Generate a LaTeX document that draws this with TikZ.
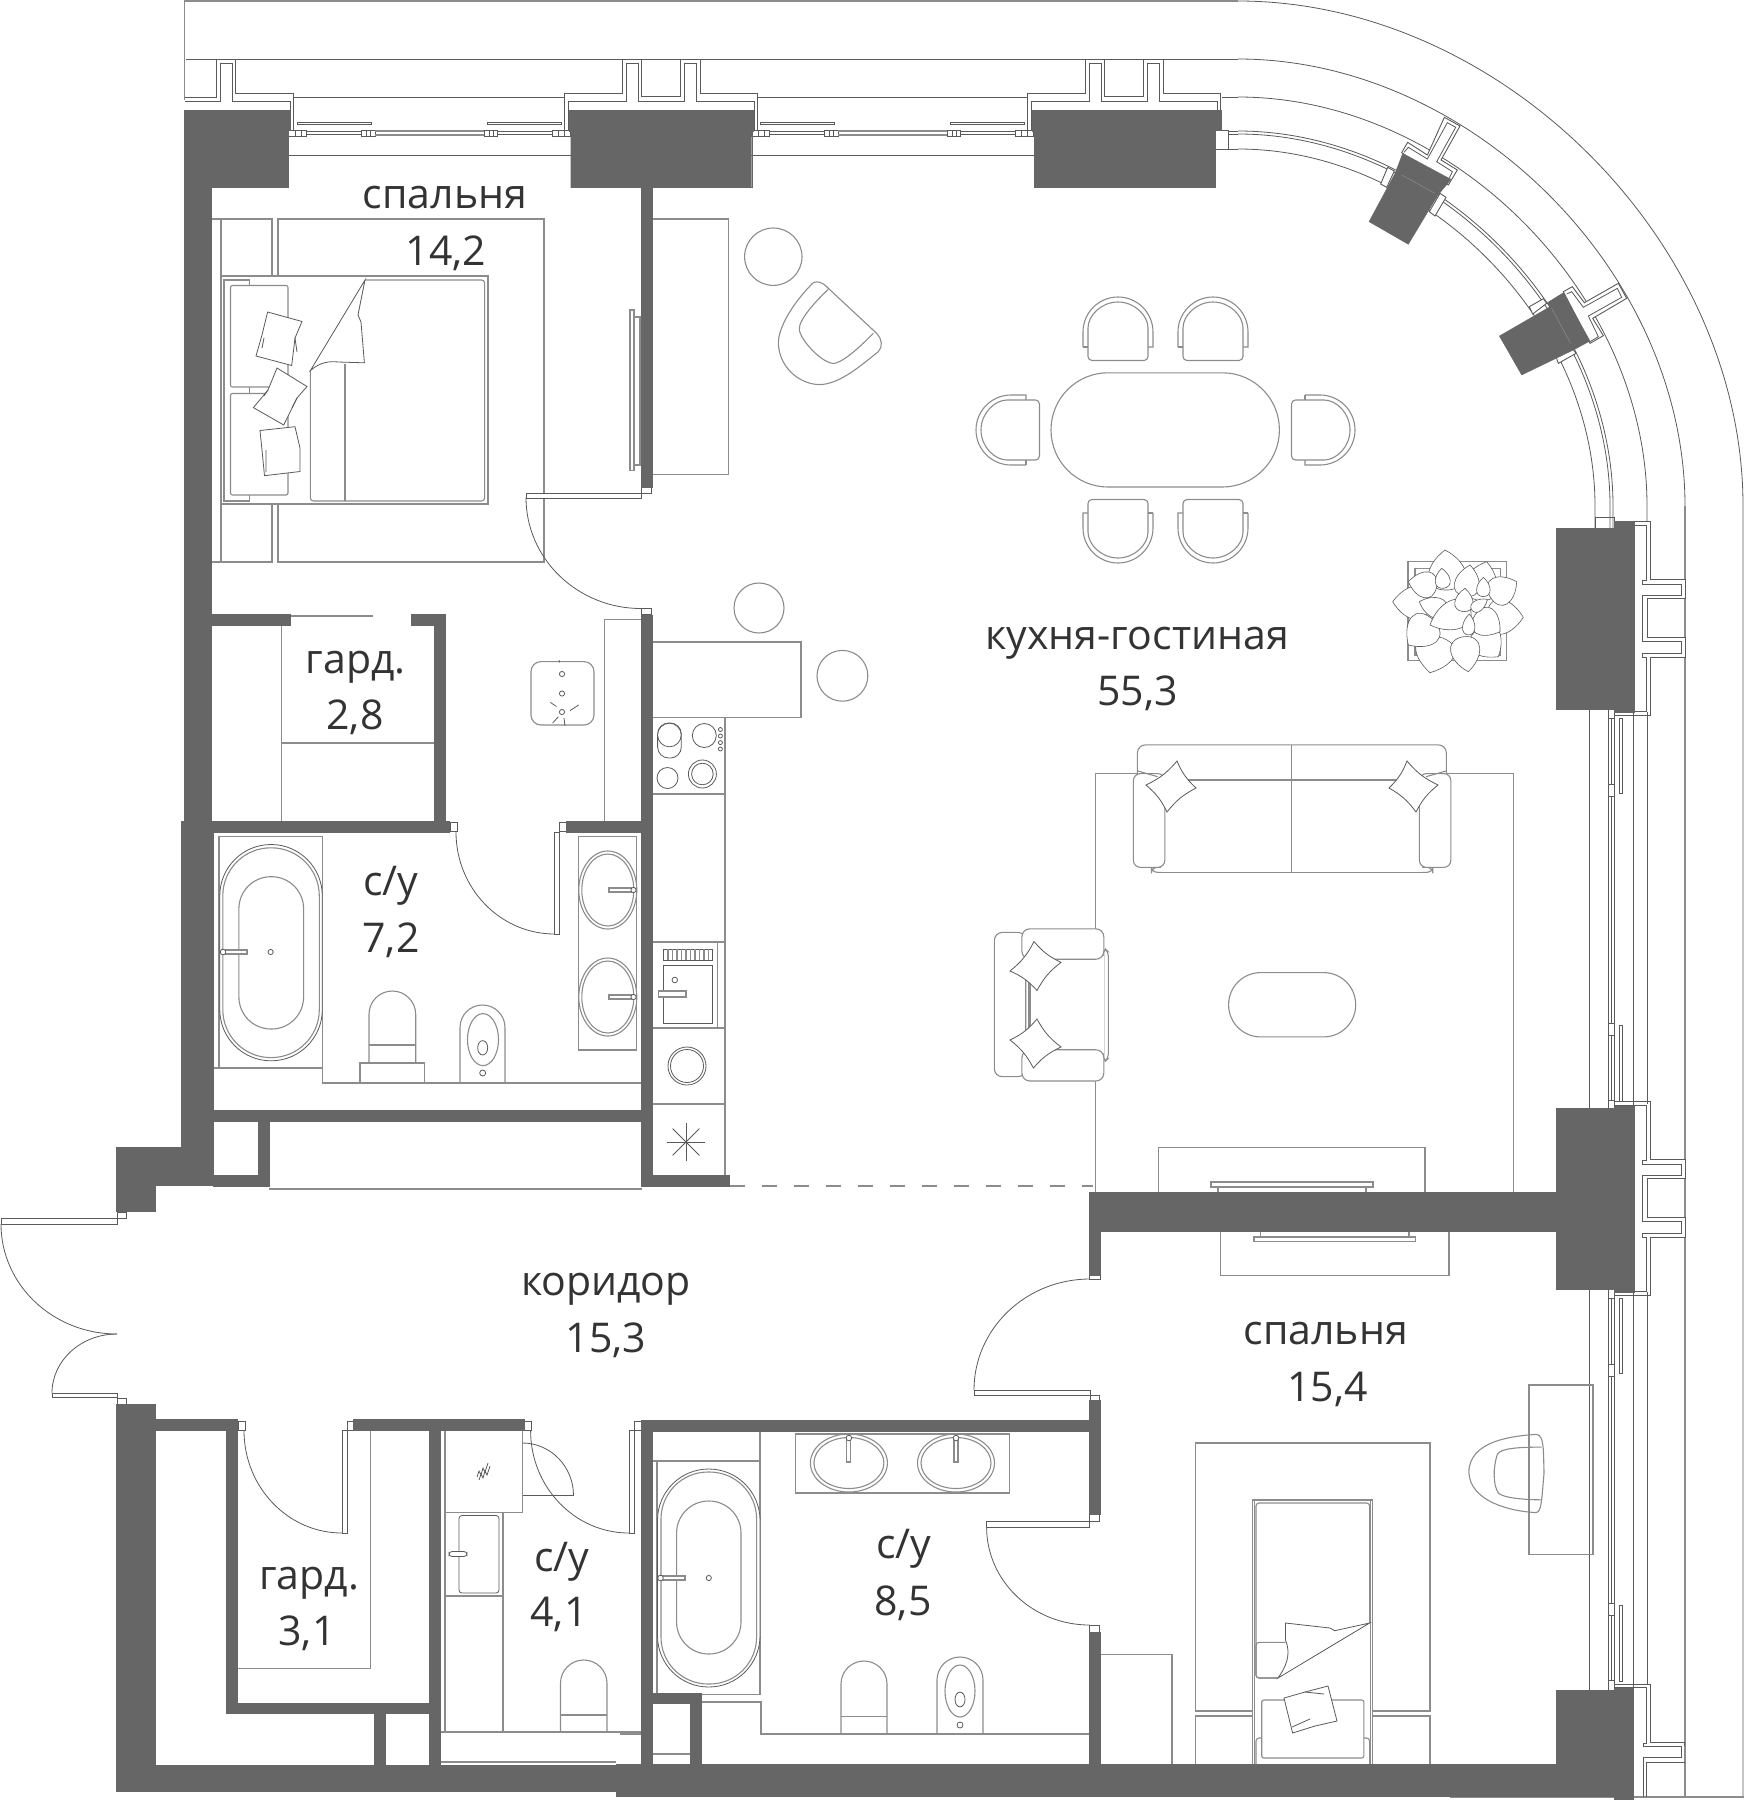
\documentclass[tikz,border=0pt]{standalone}
\usepackage{fontspec}
\setmainfont{Open Sans}
\usetikzlibrary{calc}
\definecolor{wallc}{HTML}{666666}
\definecolor{furnc}{HTML}{8C8C8C}
\definecolor{linec}{HTML}{5A5A5A}
\definecolor{labc}{HTML}{333333}
\tikzset{
  wall/.style={fill=wallc,draw=wallc,line width=.15pt},
  furn/.style={draw=furnc,line width=.55pt},
  thn/.style={draw=linec,line width=.4pt},
  frame/.style={draw=linec,line width=.45pt,fill=white},
  outerg/.style={draw=furnc,line width=.9pt},
  leafl/.style={draw=linec,line width=.3pt,fill=white},
  lbl/.style={anchor=base,inner sep=0pt,text=labc,font=\fontsize{20.5}{24}\selectfont},
  zone/.style={shift={(170,0)},x=.19135pt,y=-.19135pt},
  zfive/.style={x=.2245pt,y=-.19135pt},
  zeight/.style={shift={(1180,1280)},x=.17986pt,y=-.16779pt},
  zfour/.style={shift={(640,620)},x=.19135pt,y=-.1977pt},
  zthree/.style={x=.16667pt,y=-.16667pt},
  dinechair/.pic={
    \draw[furn] (-35,15) -- (-35,0) arc[start angle=180,end angle=360,radius=35] -- (35,15) -- (30,15);
    \draw[furn] (-35,15) -- (-30,15);
    \draw[furn,rounded corners=2pt] (-30,0) arc[start angle=180,end angle=360,radius=30] -- (30,28.5) -- (-30,28.5) -- cycle;
  }
}
\newcommand{\qarc}[1]{(1238,506-#1) .. controls (1238+0.522*#1,506-#1) and (1238+#1,506-0.522*#1) .. (1238+#1,506)}
\newcommand{\hwin}{%
  \draw[thn,fill=white] (288.6,130) rectangle (306,136);
  \draw[thn,fill=white] (361,130) rectangle (375,136);
  \draw[thn,fill=white] (484,130) rectangle (497,136);
  \draw[thn,fill=white] (552,130) rectangle (570,136);
  \foreach \xx in {295,301,366,370,489,493,558,564} {\draw[thn] (\xx,130) -- (\xx,136);}
  \draw[thn] (306,131.2) -- (361,131.2) (306,134.6) -- (361,134.6) (497,131.2) -- (552,131.2) (497,134.6) -- (552,134.6);
  \draw[furn] (375,131) -- (484,131) (375,135) -- (484,135);
  \draw[thn] (297.4,122) rectangle (371.7,124.8) (487,122) rectangle (561.5,124.8);
  \draw[thn] (288,155) -- (570.7,155);
}
\newcommand{\topfin}{%
  \begin{scope}[zone]
  \draw[frame] (1032,340) -- (1032,243) -- (1183,243) -- (1183,155) -- (1233,155) -- (1233,253) -- (1335,253) -- (1335,155) -- (1385,155) -- (1385,243) -- (1536,243) -- (1536,340);
  \draw[thn] (1042,340) -- (1042,265) -- (1193,265) -- (1193,165) -- (1223,165) -- (1223,265) -- (1345,265) -- (1345,165) -- (1375,165) -- (1375,265) -- (1526,265) -- (1526,340);
  \end{scope}
}
\newcommand{\rightfin}{%
  \draw[frame] (1280,997) -- (1359,997) -- (1359,1148) -- (1437,1148) -- (1437,1198) -- (1352,1198) -- (1352,1300) -- (1437,1300) -- (1437,1352) -- (1359,1352) -- (1359,1503) -- (1280,1503);
  \draw[thn] (1280,1007) -- (1350,1007) -- (1350,1150) -- (1342,1150) -- (1342,1160) -- (1428,1160) -- (1428,1190) -- (1342,1190) -- (1342,1310) -- (1428,1310) -- (1428,1342) -- (1342,1342) -- (1342,1352) -- (1350,1352) -- (1350,1493) -- (1280,1493);
}
\newcommand{\vwin}{%
  \draw[thn] (1608,1292) -- (1608,1688) (1611,1292) -- (1611,1688) (1614,1292) -- (1614,1688);
  \draw[thn,fill=white] (1608,1289) rectangle (1614,1298);
  \draw[thn,fill=white] (1608,1364) rectangle (1614,1376);
  \draw[thn,fill=white] (1608,1603) rectangle (1614,1615.6);
  \draw[thn,fill=white] (1608,1680) rectangle (1614,1690);
  \draw[thn] (1619,1298.5) rectangle (1622,1373) (1619,1605.5) rectangle (1622,1681);
  \draw[thn] (1589,1289) -- (1589,1690);
  \draw[thn] (1633,1292) -- (1633,1690);
  \draw[thn] (1647,1292) -- (1647,1684);
}
\newcommand{\leaf}[5]{\draw[leafl] (#1,#2) .. controls ($(#1,#2)!.02!(#3,#4)!#5*1.3pt!90:(#3,#4)$) and ($(#1,#2)!.62!(#3,#4)!#5*1.2pt!90:(#3,#4)$) .. (#3,#4) .. controls ($(#1,#2)!.62!(#3,#4)!#5*1.2pt!-90:(#3,#4)$) and ($(#1,#2)!.02!(#3,#4)!#5*1.3pt!-90:(#3,#4)$) .. cycle;}
\newcommand{\caps}[5]{\draw[furn,rounded corners=#5pt] (#1,#2) rectangle (#3,#4);}
\newcommand{\wc}[6]{% x1 x2 top r bottom line
  \draw[furn] (#1,#5) -- (#1,#3+#4) arc[start angle=180,end angle=360,radius=#4] -- (#2,#5);
  \draw[furn] (#1,#6) -- (#2,#6);}
\begin{document}
\begin{tikzpicture}[x=.5pt,y=-.5pt]
\useasboundingbox (0,0) rectangle (1744,1800);
% outer lines
\draw[outerg] (184.5,100) -- (184.5,1) -- (1238,1);
\draw[thn] \qarc{505} -- (1743,1798);
\draw[thn] (186,59) -- (1238,59);
\draw[thn] \qarc{447};
\draw[outerg] (1685,506) -- (1685,1797);
\draw[outerg] (1450,1797) -- (1744,1797);
\draw[thn] (184.5,97) -- (216.7,97) (294,97) -- (565,97) (757,97) -- (1028,97) (1222,97) -- (1238,97);
\draw[thn] \qarc{409} -- (1647,521);
\draw[thn] (1647,715) -- (1647,1101);
% curved window
\draw[thn] (1215,149) -- (1238,149);
\draw[thn] \qarc{357} -- (1595,528);
\draw[thn] (1228,131) -- (1238,131);
\draw[thn] \qarc{375} -- (1613,528);
\draw[thn] (1228,134) -- (1238,134);
\draw[thn] \qarc{372} -- (1610,528);
\draw[frame] (1215,130) rectangle (1228,149);
\draw[thn] (1595,517) rectangle (1614,528);
% left fin
\begin{scope}[zone]
\draw[thn] (38,255) -- (122,255) -- (122,155) -- (172,155) -- (172,243) -- (323,243) -- (323,340);
\draw[thn] (38,265) -- (132,265) -- (132,165) -- (162,165) -- (162,265) -- (314,265) -- (314,340);
\end{scope}
\topfin
\begin{scope}[shift={(463,0)}]\topfin\end{scope}
\hwin
\begin{scope}[shift={(463,0)}]\hwin\end{scope}
% angled fins
\begin{scope}[shift={(1340,110)},zthree]
\draw[frame] (185,128) -- (203,97) -- (262,135) -- (313,22) -- (360,48) -- (303,150) -- (352,180) -- (325,225) -- cycle;
\draw[thn] (192,127) -- (205,112) -- (262,147) -- (322,38) -- (347,52) -- (290,155) -- (337,185) -- (318,225);
\draw[frame] (143,172) -- (122,222) -- (140,232) -- (163,183) -- cycle;
\draw[frame] (300,250) -- (268,305) -- (285,318) -- (318,262) -- cycle;
\draw[frame] (670,545) -- (697,530) -- (733,578) -- (835,520) -- (860,565) -- (758,625) -- (790,677) -- (750,700) -- cycle;
\draw[thn] (680,552) -- (695,545) -- (730,592) -- (832,535) -- (845,562) -- (745,618) -- (775,680) -- (750,695);
\draw[frame] (568,590) -- (610,566) -- (620,580) -- (578,612) -- cycle;
\draw[frame] (648,740) -- (695,712) -- (708,730) -- (655,760) -- cycle;
\fill[wall] (188,130) -- (333,208) -- (292,258) -- (205,403) -- (87,335) -- (165,190) -- cycle;
\fill[wall] (670,548) -- (750,693) -- (700,720) -- (545,795) -- (478,678) -- (630,590) -- (622,578) -- cycle;
\draw[furnc,line width=.25pt] (185,195) -- (285,250) (635,595) -- (692,700);
\end{scope}
% right facade
\begin{scope}[shift={(1040,140)},zfive]\rightfin\end{scope}
\begin{scope}[shift={(1040,720)},zfive]\rightfin\end{scope}
\vwin
\begin{scope}[shift={(0,-580)}]\vwin\end{scope}
\begin{scope}[zeight]
\draw[thn] (1207,1205) -- (1307,1205) -- (1307,1377) -- (1403,1377) -- (1403,1390);
\draw[thn] (1207,1215) -- (1297,1215) -- (1297,1380) -- (1287,1380) -- (1287,1390) -- (1393,1390) -- (1393,1424) -- (1287,1424) -- (1287,1540);
\draw[thn] (1403,1437) -- (1297,1437) -- (1297,1540);
\end{scope}
% bedroom 1
\draw[furn] (211,219) -- (272,219) -- (272,562) -- (211,562);
\draw[furn] (221,219) -- (221,562);
\draw[furn] (278,219) rectangle (544,562);
\draw[furn,fill=white] (221,276) rectangle (488,504);
\draw[furn] (249.6,285.5) -- (249.6,280) -- (224,280) -- (224,501) -- (249.6,501) -- (249.6,495);
\draw[furn] (249.6,387) -- (249.6,393.5);
\draw[furn,rounded corners=1pt] (230.5,285.5) rectangle (288,387);
\draw[furn,rounded corners=1pt] (230.5,393.5) rectangle (288,495);
\draw[furn,rounded corners=1.5pt] (365,280) -- (484.6,280) -- (484.6,501) -- (310.4,501) -- (310.4,370);
\draw[furn] (345,363.6) -- (345,501);
\draw[thn,fill=white] (365,280) -- (310.4,370.5) .. controls (320,362) and (330,361) .. (338,362) -- (364.4,362.8) -- (361,322) -- (358,315) -- cycle;
\draw[thn,fill=white] (267.6,312) -- (302,321.5) -- (295,338) -- (291.7,365.5) -- (256,356) -- (262,335) -- cycle;
\draw[thn,fill=white] (277,368) -- (307,386.5) -- (297,398) -- (283.7,425) -- (253.4,407.6) -- (268,390) -- cycle;
\draw[thn,fill=white] (260,430.5) -- (295,426.7) -- (300,448) -- (300,471.5) -- (264.5,475.7) -- (262,450) -- cycle;
\draw[thn] (264,338) -- (262,348) (268,390) -- (264,396) (266,450) -- (266,472) (295,338) -- (297,352) (297,398) -- (292,408);
\draw[furn] (653,219) -- (728.7,219) -- (728.7,474.5) -- (653,474.5);
\draw[furn] (630,310) rectangle (634,470.7) (634,317) rectangle (640,465);
% lounge chair
\draw[furn] (773.3,256.7) circle[radius=28.7];
\begin{scope}[shift={(730,210)},zthree]
\draw[furn] (440,370) -- (295,235) .. controls (280,218) and (255,205) .. (240,228) .. controls (190,280) and (145,350) .. (145,400) .. controls (148,480) and (220,530) .. (280,523) .. controls (340,515) and (400,460) .. (445,425) .. controls (460,410) and (455,385) .. (440,370);
\draw[furn] (295,238) .. controls (260,270) and (205,330) .. (208,358) .. controls (210,390) and (280,465) .. (315,460) .. controls (350,450) and (400,400) .. (430,370);
\end{scope}
% bar
\draw[furn] (652.6,642) -- (801,642) -- (801,717.7) -- (652.6,717.7);
\draw[furn] (842.4,675.8) circle[radius=25.4];
\draw[furn] (759,608) circle[radius=25];
% island
\draw[furn] (641,619.6) -- (604.4,619.6) -- (604.4,821);
\draw[furn,rounded corners=5pt] (531,661.6) rectangle (594,725);
\foreach \yy in {674,693.5,712} {\draw[thn] (562,\yy) circle[radius=2.6];}
\draw[thn] (550.4,702.4) -- (556.5,706.5) (578.7,705) -- (570,710.6) (564,718) -- (565,726) (552.7,723) -- (558.4,716.7) (559,660) -- (559.6,662.4);
% kitchen
\draw[furn] (725,717.7) -- (725,1175);
\draw[furn] (652.6,717.7) -- (725,717.7) (652.6,794) -- (725,794) (652.6,942) -- (725,942) (652.6,1028) -- (725,1028) (652.6,1104) -- (725,1104);
\draw[furn] (717.7,942) -- (717.7,1028);
\draw[thn] (663.3,965.6) rectangle (712.7,1023);
\draw[thn] (663.3,949) rectangle (712.7,960);
\foreach \xx in {668,672.5,677,681.5,686,690.5,695,699.5,704,708.5} {\draw[furn] (\xx,949) -- (\xx,960);}
\draw[thn] (674.8,980) circle[radius=2.8];
\draw[furn,fill=white] (658.4,991) rectangle (686,997);
\draw[thn] (687,1066) circle[radius=19] (687,1066) circle[radius=16.5];
\foreach \aa in {0,45,...,315} {\draw[thn] (686,1142) -- ++(\aa:19);}
\draw[thn,rounded corners=5.5pt] (657.6,723) rectangle (681.3,758);
\draw[thn,fill=white] (669.4,735) circle[radius=11.8];
\draw[thn] (704.3,735.5) circle[radius=12] (667.5,778) circle[radius=10.5] (702.4,774) circle[radius=14] (702.4,774) circle[radius=10.8];
\foreach \yy in {729.5,736,742.6,749} {\draw[thn] (720.4,\yy) circle[radius=2];}
\draw[furnc,line width=.75pt,dash pattern=on 7.5pt off 8.5pt] (730,1186) -- (1093,1186);
% bathroom 7.2
\draw[furn] (219,1068) -- (219,836.3) -- (322.7,836.3) -- (322.7,1083) -- (641.5,1083);
\draw[furn] (213,1068) -- (322.7,1068);
\draw[thn,fill=white,rounded corners=25.6pt] (219.8,844.5) rectangle (322.3,1060.8);
\caps{222.8}{847.8}{319.3}{1057.6}{24}
\caps{238.9}{876.7}{303.6}{1029}{16}
\draw[furn,fill=white] (222,950) rectangle (247,954);
\draw[thn,fill=white] (223,952) circle[radius=2.8];
\draw[thn] (270.6,952) circle[radius=2.6];
\wc{369}{415.7}{991}{23.35}{1063}{1045}
\draw[furn] (360,1083) -- (360,1063) -- (424.5,1063) -- (424.5,1083);
\draw[furn] (460,1083) -- (460,1027.5) arc[start angle=180,end angle=360,radius=22.5] -- (505,1083);
\draw[furn] (483,1039.6) ellipse[x radius=15.5,y radius=26];
\draw[thn] (482.7,1047.8) ellipse[x radius=5,y radius=7.2];
\draw[thn] (482.7,1073) circle[radius=3];
\draw[furn] (578.3,836.3) rectangle (636.5,1050);
\foreach \yy in {890,997} {
  \draw[furn] (607.8,\yy) ellipse[x radius=29,y radius=39];
  \draw[furn] (607.8,\yy) ellipse[x radius=26,y radius=36];
  \draw[furn,fill=white] (609,\yy-2) rectangle (634,\yy+2);
  \draw[thn,fill=white] (633.5,\yy) circle[radius=2.6];
}
% closet 2.8
\draw[furn] (281.7,625) -- (281.7,821) (281.7,743) -- (434.5,743);
\draw[furn] (290,616) -- (373,616);
% corridor doors etc
\draw[thn,fill=white] (526,493) rectangle (641.5,498);
\draw[linec,line width=.4pt] (526,497.5) arc[start angle=180,end angle=90,x radius=115,y radius=111];
\draw[thn,fill=white] (641.5,487) rectangle (651,493);
\draw[thn,fill=white] (641.5,608.6) rectangle (651,614.7);
\draw[thn,fill=white] (554.6,832) rectangle (559,934);
\draw[linec,line width=.4pt] (456,832) arc[start angle=180,end angle=90,x radius=98.6,y radius=102];
\draw[thn,fill=white] (450.5,822) rectangle (457,831);
\draw[thn,fill=white] (559.6,822) rectangle (566,831);
% entry
\draw[thn,fill=white] (1,1218) rectangle (117,1224);
\draw[linec,line width=.4pt] (1,1224) arc[start angle=180,end angle=90,x radius=116,y radius=110];
\draw[thn,fill=white] (52,1393) rectangle (117,1397.5);
\draw[linec,line width=.4pt] (52,1393) arc[start angle=180,end angle=270,x radius=65,y radius=59];
\draw[thn,fill=white] (117,1212) rectangle (126.5,1218);
\draw[thn,fill=white] (117,1398) rectangle (126.5,1404);
% closet bottom line
\draw[furn] (268.7,1189) -- (642,1189);
% gard 3.1
\draw[furn] (370.6,1430.5) -- (370.6,1668.6) -- (237,1668.6);
\draw[thn,fill=white] (342,1430.5) rectangle (347.5,1533);
\draw[linec,line width=.4pt] (244,1430.5) arc[start angle=180,end angle=90,x radius=98,y radius=102.5];
\draw[thn,fill=white] (238,1421) rectangle (245,1430.5);
\draw[thn,fill=white] (347,1421) rectangle (353.5,1430.5);
% bath 4.1
\draw[furn] (445,1430.5) -- (445,1732);
\draw[furn] (440,1732) -- (641,1732);
\draw[furn] (440,1762) -- (616,1762);
\draw[furn] (522.5,1430.5) -- (522.5,1512.5) -- (445,1512.5);
\draw[furn] (503,1512.5) -- (503,1732) (445,1596) -- (503,1596);
\draw[thn] (522.5,1495.5) -- (573.5,1495.5);
\draw[linec,line width=.4pt] (573.5,1495.5) arc[start angle=0,end angle=-90,x radius=51,y radius=52.5];
\draw[thn,rounded corners=1.5pt] (459,1515.5) rectangle (499,1593);
\draw[thn,fill=white,rounded corners=1.5pt] (449,1551.5) rectangle (467,1556.5);
\draw[thn] (477,1477) -- (479,1471) -- (481,1475) -- (483,1468) -- (485,1472) -- (488,1463) (479,1480) -- (481,1474) -- (483,1478) -- (485,1471) -- (487,1475) -- (490,1466);
\wc{560.5}{607}{1660}{23.25}{1732}{1715}
\draw[thn,fill=white] (629,1430.5) rectangle (634,1533);
\draw[linec,line width=.4pt] (530.6,1430.5) arc[start angle=180,end angle=90,x radius=98.4,y radius=102.5];
\draw[thn,fill=white] (524.5,1421) rectangle (531.5,1430.5);
\draw[thn,fill=white] (634,1421) rectangle (641,1430.5);
% bath 8.5
\draw[furn] (652.5,1461) -- (760,1461) -- (760,1431);
\draw[furn] (657,1461) -- (657,1694.5) -- (760,1694.5) -- (760,1461);
\draw[thn,fill=white,rounded corners=25.6pt] (657.5,1469) rectangle (760,1687);
\caps{661}{1472}{756.6}{1684}{23.5}
\caps{676.6}{1501}{741}{1654}{16}
\draw[furn,fill=white] (660,1576) rectangle (685,1580);
\draw[thn,fill=white] (660.5,1578) circle[radius=2.8];
\draw[thn] (708.8,1578) circle[radius=2.6];
\draw[furn] (795.3,1434) rectangle (1009.6,1493);
\foreach \xx in {848.9,956} {
  \draw[furn] (\xx,1463) ellipse[x radius=38.5,y radius=29];
  \draw[furn] (\xx,1463) ellipse[x radius=35,y radius=25.5];
  \draw[furn,fill=white] (\xx-2,1438) rectangle (\xx+2,1462);
  \draw[thn,fill=white] (\xx,1438) circle[radius=2.8];
}
\draw[furn] (701,1702) -- (761,1702) -- (761,1734) -- (1089.6,1734);
\draw[furn] (620,1734) -- (641,1734);
\wc{841}{887}{1661}{23}{1734}{1716.6}
\draw[furn] (937,1734) -- (937,1680) arc[start angle=180,end angle=360,radius=23] -- (983,1734);
\draw[furn] (960,1691) ellipse[x radius=15,y radius=26];
\draw[thn] (960,1699.5) ellipse[x radius=5,y radius=7.4];
\draw[thn] (960,1725) circle[radius=3];
\draw[furn] (652.5,1754) -- (690,1754);
\draw[furn] (1100,1654.5) -- (1172,1654.5) -- (1172,1764);
\draw[thn,fill=white] (974,1390) rectangle (1090,1395);
\draw[linec,line width=.4pt] (974,1390) arc[start angle=180,end angle=270,x radius=116,y radius=111];
\draw[thn,fill=white] (1089,1275) rectangle (1100,1279);
\draw[thn,fill=white] (1090,1395) rectangle (1099,1400);
\draw[thn,fill=white] (986.6,1521) rectangle (1089.6,1527);
\draw[linec,line width=.4pt] (986.6,1527) arc[start angle=180,end angle=90,x radius=103,y radius=98];
\draw[thn,fill=white] (1089.6,1514) rectangle (1099,1521);
\draw[thn,fill=white] (1089.6,1625) rectangle (1099,1632);
% plant
\draw[furn] (1408,561.6) rectangle (1506.6,660.7);
\draw[furn] (1415,568.7) rectangle (1500.5,655);
\begin{scope}[shift={(1380,540)},zthree]
\leaf{205}{150}{195}{30}{10}
\leaf{290}{180}{320}{65}{9}
\leaf{320}{230}{430}{232}{9.3}
\leaf{330}{170}{410}{125}{7.8}
\leaf{290}{270}{355}{350}{9}
\leaf{175}{290}{150}{398}{10.6}
\leaf{150}{190}{38}{185}{9}
\leaf{170}{140}{85}{125}{7}
\leaf{160}{240}{85}{315}{9.3}
\leaf{250}{290}{265}{395}{7.8}
\leaf{200}{215}{118}{185}{5.5}
\leaf{255}{170}{270}{75}{6.7}
\leaf{190}{145}{185}{85}{4}
\leaf{310}{170}{310}{112}{3.6}
\leaf{270}{205}{150}{255}{7.8}
\leaf{285}{225}{360}{275}{7.8}
\leaf{250}{215}{255}{145}{4.9}
\leaf{275}{210}{322}{178}{3}
\leaf{265}{285}{268}{222}{3.3}
\end{scope}
% dining
\draw[furn,rounded corners=28.5pt] (1051,372.8) rectangle (1279.4,487);
\pic at (1118,332) {dinechair};
\pic at (1213,332) {dinechair};
\pic[rotate=180] at (1118,528) {dinechair};
\pic[rotate=180] at (1213,528) {dinechair};
\pic[rotate=-90] at (1320,430) {dinechair};
\pic[rotate=90] at (1011,430) {dinechair};
% rug and sofa
\draw[furn] (1095.4,1192) -- (1095.4,773.6) -- (1513.7,773.6) -- (1513.7,1192);
\begin{scope}[shift={(1040,720)},zfive]
\draw[furn,fill=white,rounded corners=3pt] (248,385) -- (248,398) -- (875,398) -- (875,385) -- cycle;
\draw[furn,fill=white,rounded corners=4pt] (217,160) -- (217,65) -- (905,65) -- (905,160) -- cycle;
\draw[furn] (278,155) -- (845,155) (278,158) -- (845,158);
\draw[draw=none,fill=white] (270,159) rectangle (850,397);
\draw[furn] (561,65) -- (561,398);
\draw[furn,fill=white,rounded corners=3.5pt] (208,140) rectangle (278,385);
\draw[furn,fill=white,rounded corners=3.5pt] (845,140) rectangle (915,385);
\draw[furn] (217,133) -- (262,148) (905,133) -- (860,148);
\end{scope}
\draw[thn,fill=white] (1177,761) to[bend right=12] (1196,788) to[bend right=12] (1167,812) to[bend right=12] (1146,785) to[bend right=12] cycle;
\draw[thn,fill=white] (1407,761) to[bend right=12] (1438,785) to[bend right=12] (1416,812) to[bend right=12] (1389,788) to[bend right=12] cycle;
% armchair
\begin{scope}[zfour]
\draw[furn,fill=white,rounded corners=2.5pt] (1212,828) -- (1224,840) -- (1224,1108) -- (1212,1120) -- cycle;
\draw[draw=none,fill=white] (1010,850) rectangle (1212,1095);
\draw[furn] (1015,908) -- (1015,1040) (1019,908) -- (1019,1040);
\draw[furn,fill=white,rounded corners=4pt] (926,790) rectangle (1008,1155);
\draw[furn,fill=white,rounded corners=4pt] (998,781) rectangle (1212,858);
\draw[furn,fill=white,rounded corners=4pt] (998,1087) rectangle (1212,1166);
\end{scope}
\draw[thn,fill=white] (1034,941.5) to[bend right=12] (1061,962.4) to[bend right=12] (1037,990.5) to[bend right=12] (1010,971) to[bend right=12] cycle;
\draw[thn,fill=white] (1037,1019) to[bend right=12] (1061,1047) to[bend right=12] (1033.4,1068) to[bend right=12] (1010,1040) to[bend right=12] cycle;
\draw[furn,rounded corners=16pt] (1228.6,972.6) rectangle (1355.7,1036.9);
\draw[furn] (1158.5,1192) -- (1158.5,1147.5) -- (1425,1147.5) -- (1425,1192);
\draw[furn] (1211,1182) rectangle (1373,1187);
\draw[furn] (1218,1187) -- (1218,1192) (1366,1187) -- (1366,1192);
\draw[furn] (1220.5,1231) -- (1220.5,1275.7) -- (1449,1275.7) -- (1449,1231);
\draw[furn] (1254,1237) rectangle (1415.4,1241.6);
\draw[furn] (1260.5,1231) -- (1260.5,1237) (1409,1231) -- (1409,1237);
% bedroom 2
\draw[furn] (1195.5,1443) rectangle (1430,1711);
\draw[furn] (1195.5,1765) -- (1195.5,1716) -- (1430,1716) -- (1430,1765);
\draw[furn,fill=white] (1252.3,1765) -- (1252.3,1500) -- (1372.8,1500) -- (1372.8,1765);
\draw[furn] (1254.5,1765) -- (1254.5,1500) (1370.6,1765) -- (1370.6,1500);
\draw[furn,rounded corners=1.5pt] (1278,1678) -- (1256,1678) -- (1256,1503) -- (1369.6,1503) -- (1369.6,1623);
\draw[furn,rounded corners=1.5pt] (1285.4,1642.4) -- (1256,1642.4) -- (1256,1678) -- (1278,1678);
\draw[furn,rounded corners=1.5pt] (1256,1765) -- (1256,1738) -- (1369.6,1738) -- (1369.6,1765);
\draw[thn,fill=white] (1285.4,1623) -- (1330,1628) -- (1334.7,1630.7) -- (1369.6,1623) -- (1278,1678) .. controls (1285,1668) and (1292,1655) .. (1285.4,1640) -- cycle;
\draw[furn,fill=white,rounded corners=1pt] (1261.7,1700) rectangle (1363.8,1758);
\draw[thn,fill=white] (1284,1698) -- (1305,1692) -- (1328,1686) -- (1337,1721) -- (1315,1726) -- (1292.6,1733) -- cycle;
\draw[thn] (1305,1692) -- (1324,1694) (1292,1727) -- (1310,1719);
\draw[furn] (1529,1385) rectangle (1593,1554.5);
\begin{scope}[zeight]
\draw[furn] (990,460) .. controls (920,465) and (805,480) .. (803,572) .. controls (805,660) and (920,690) .. (990,693) .. controls (1005,690) and (1005,660) .. (1012,575) .. controls (1010,500) and (1012,462) .. (990,460) -- cycle;
\draw[furn] (1005,498) .. controls (950,498) and (890,500) .. (882,520) .. controls (870,560) and (870,610) .. (885,635) .. controls (900,650) and (960,655) .. (1005,655);
\end{scope}
% WALLS
\fill[wall] (184.5,110) -- (290,110) -- (290,130) -- (288,130) -- (288,187.5) -- (211,187.5) -- (211,821) -- (184.5,821) -- cycle;
\fill[wall] (569,110) -- (753.6,110) -- (753.6,131) -- (751.7,131) -- (751.7,187.5) -- (570.7,187.5) -- (570.7,131) -- (569,131) -- cycle;
\fill[wall] (1032,110) -- (1221.5,110) -- (1221.5,130) -- (1215,130) -- (1215,187) -- (1034,187) -- (1034,131) -- (1032,131) -- cycle;
\fill[wall] (641.5,187.5) rectangle (652,487);
\fill[wall] (641.5,614.7) rectangle (652,1186);
\fill[wall] (641.5,1175) rectangle (729.5,1186);
\fill[wall] (566,821) rectangle (652,832);
\fill[wall] (181,821) -- (213.5,821) -- (213.5,1185) -- (155.5,1185) -- (155.5,1211.5) -- (116,1211.5) -- (116,1147) -- (181,1147) -- cycle;
\fill[wall] (213,821) rectangle (449,832);
\fill[wall] (211,614) rectangle (290,625);
\fill[wall] (411,614) rectangle (445.5,625);
\fill[wall] (434.5,614) rectangle (445.5,821);
\fill[wall] (213,1110.6) rectangle (652,1121.6);
\fill[wall] (213,1175) rectangle (268.7,1186);
\fill[wall] (258.4,1121) rectangle (268.7,1186);
% lower left
\fill[wall] (116,1404.5) rectangle (155.5,1791);
\fill[wall] (155.5,1765) rectangle (617,1791);
\fill[wall] (155.5,1419) rectangle (237.5,1430.5);
\fill[wall] (353.5,1419) rectangle (524.5,1430.5);
\fill[wall] (226.5,1430) rectangle (237,1713);
\fill[wall] (226.5,1703) rectangle (440,1713);
\fill[wall] (374,1713) rectangle (385,1765);
\fill[wall] (429,1430) rectangle (440,1765);
% lower right
\fill[wall] (616,1764) rectangle (1556,1796);
\fill[wall] (641,1420) rectangle (1100,1431);
\fill[wall] (641,1431) rectangle (652.5,1764);
\fill[wall] (652.5,1693) rectangle (701,1703);
\fill[wall] (690,1703) rectangle (701,1764);
\fill[wall] (1089.6,1400) rectangle (1100,1514);
\fill[wall] (1089.6,1632) rectangle (1100,1764);
% living/bedroom wall
\fill[wall] (1089,1192) rectangle (1556,1231);
\fill[wall] (1089,1231) rectangle (1100,1275);
% right piers
\fill[wall] (1556,528.5) -- (1614,528.5) -- (1614,521.5) -- (1634,521.5) -- (1634,712) -- (1614,712) -- (1614,709) -- (1556,709) -- cycle;
\fill[wall] (1556,1108) -- (1614,1108) -- (1614,1106) -- (1634,1106) -- (1634,1292) -- (1614,1292) -- (1614,1289) -- (1556,1289) -- cycle;
\fill[wall] (1556,1690) -- (1614,1690) -- (1614,1688) -- (1633,1688) -- (1633,1800) -- (1614,1800) -- (1614,1796) -- (1556,1796) -- cycle;
% labels
\node[lbl] (t1a) at (445,208.6) {спальня};
\node[lbl] (t1b) at (446,265) {14,2};
\node[lbl] (t2a) at (1137,649) {кухня-гостиная};
\node[lbl] (t2b) at (1137.6,705.5) {55,3};
\node[lbl] (t3a) at (355.6,673) {гард.};
\node[lbl] (t3b) at (355,729) {2,8};
\node[lbl] (t4a) at (391,895) {с/у};
\node[lbl] (t4b) at (391,952) {7,2};
\node[lbl] (t5a) at (606,1295.6) {коридор};
\node[lbl] (t5b) at (606,1352) {15,3};
\node[lbl] (t6a) at (1325.7,1344.4) {спальня};
\node[lbl] (t6b) at (1327.5,1401.5) {15,4};
\node[lbl] (t7a) at (562,1571) {с/у};
\node[lbl] (t7b) at (559,1626.5) {4,1};
\node[lbl] (t8a) at (309,1589.6) {гард.};
\node[lbl] (t8b) at (307,1645.6) {3,1};
\node[lbl] (t9a) at (904,1558) {с/у};
\node[lbl] (t9b) at (903,1615) {8,5};
\end{tikzpicture}
\end{document}
